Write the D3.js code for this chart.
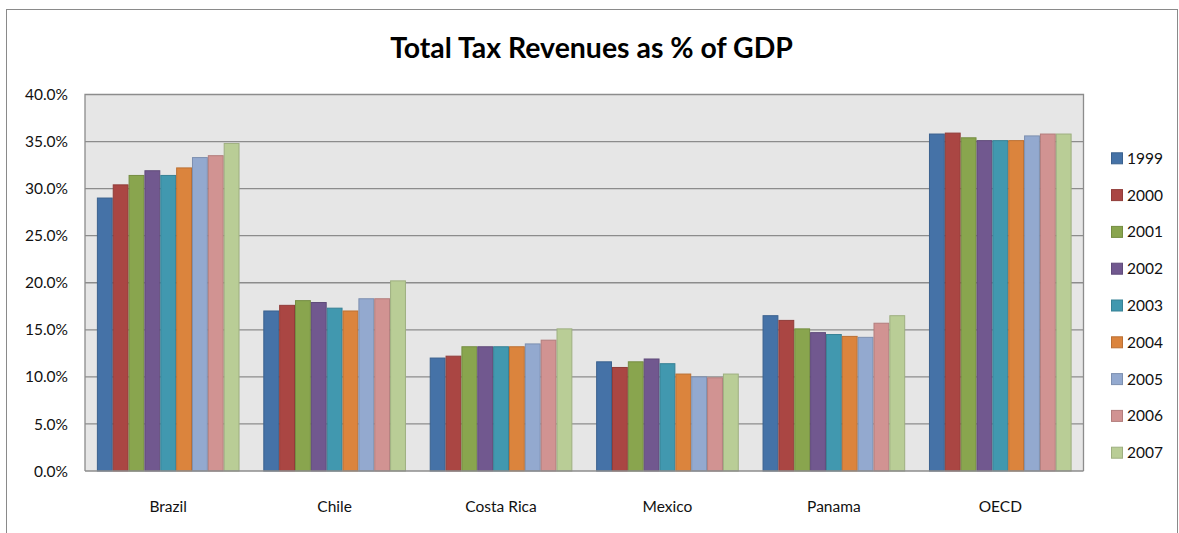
<!DOCTYPE html>
<html>
<head>
<meta charset="utf-8">
<script src="https://cdn.jsdelivr.net/npm/d3@7"></script>
<style>
  html, body { margin: 0; padding: 0; background: #fff; }
  svg { display: block; font-family: Lato, "Open Sans", sans-serif; }
</style>
</head>
<body>
<svg id="chart" width="1179" height="533"></svg>
<script>
// Countries along the x axis
const categories = ["Brazil", "Chile", "Costa Rica", "Mexico", "Panama", "OECD"];
// One series per year
const years = ["1999", "2000", "2001", "2002", "2003", "2004", "2005", "2006", "2007"];
// Total tax revenue as % of GDP, per year, in country order
const v1999 = [29.0, 17.0, 12.0, 11.6, 16.5, 35.8];
const v2000 = [30.4, 17.6, 12.2, 11.0, 16.0, 35.9];
const v2001 = [31.4, 18.1, 13.2, 11.6, 15.1, 35.4];
const v2002 = [31.9, 17.9, 13.2, 11.9, 14.7, 35.1];
const v2003 = [31.4, 17.3, 13.2, 11.4, 14.5, 35.1];
const v2004 = [32.2, 17.0, 13.2, 10.3, 14.3, 35.1];
const v2005 = [33.3, 18.3, 13.5, 10.0, 14.2, 35.6];
const v2006 = [33.5, 18.3, 13.9,  9.9, 15.7, 35.8];
const v2007 = [34.8, 20.2, 15.1, 10.3, 16.5, 35.8];
const yTicks = [0, 5, 10, 15, 20, 25, 30, 35, 40];

const seriesValues = [v1999, v2000, v2001, v2002, v2003, v2004, v2005, v2006, v2007];
const colors = ["#4572A7", "#AA4643", "#89A54E", "#71588F", "#4198AF",
                "#DB843D", "#93A9CF", "#D19392", "#B9CD96"];

const svg = d3.select("#chart");

// outer chart frame
svg.append("rect")
  .attr("x", 6.5).attr("y", 9.5)
  .attr("width", 1171).attr("height", 560)
  .attr("fill", "#fff").attr("stroke", "#8a8a8a").attr("stroke-width", 1);

const plot = { left: 85, right: 1083.5, top: 94.5, bottom: 471 };

const x0 = d3.scaleBand().domain(categories)
  .range([plot.left, plot.right]).padding(0);
const x1 = d3.scaleBand().domain(years)
  .range([0, x0.bandwidth()]).paddingInner(0).paddingOuter(0.75);
const y = d3.scaleLinear().domain([0, 40]).range([plot.bottom, plot.top]);
const color = d3.scaleOrdinal().domain(years).range(colors);

// plot area background
svg.append("rect")
  .attr("x", plot.left).attr("y", plot.top)
  .attr("width", plot.right - plot.left).attr("height", plot.bottom - plot.top)
  .attr("fill", "#e6e6e6");

// horizontal gridlines
svg.append("g")
  .selectAll("line")
  .data(yTicks.filter(t => t > 0 && t < 40))
  .join("line")
  .attr("x1", plot.left).attr("x2", plot.right)
  .attr("y1", d => y(d)).attr("y2", d => y(d))
  .attr("stroke", "#8c8c8c").attr("stroke-width", 1.3);

// plot border (top, right, left)
svg.append("path")
  .attr("d", `M${plot.left},${plot.bottom}V${plot.top}H${plot.right}V${plot.bottom}`)
  .attr("fill", "none").attr("stroke", "#8c8c8c").attr("stroke-width", 1.3);

// y axis labels
svg.append("g")
  .selectAll("text")
  .data(yTicks)
  .join("text")
  .attr("x", 68).attr("y", d => y(d))
  .attr("dy", "0.36em")
  .attr("text-anchor", "end")
  .attr("font-size", 15.5)
  .attr("fill", "#111")
  .text(d => d3.format(".1f")(d) + "%");

// bars
const rows = categories.map((c, i) => ({
  category: c,
  values: years.map((yr, j) => ({ year: yr, value: seriesValues[j][i] }))
}));

const groups = svg.append("g")
  .selectAll("g")
  .data(rows)
  .join("g")
  .attr("transform", d => `translate(${x0(d.category)},0)`);

groups.selectAll("rect")
  .data(d => d.values)
  .join("rect")
  .attr("x", d => x1(d.year) + 0.5)
  .attr("y", d => y(d.value))
  .attr("width", x1.bandwidth() - 1)
  .attr("height", d => y(0) - y(d.value))
  .attr("fill", d => color(d.year))
  .attr("stroke", d => d3.color(color(d.year)).darker(0.45))
  .attr("stroke-width", 1);

// baseline
svg.append("line")
  .attr("x1", plot.left).attr("x2", plot.right)
  .attr("y1", plot.bottom).attr("y2", plot.bottom)
  .attr("stroke", "#8c8c8c").attr("stroke-width", 1.5);

// category labels
svg.append("g")
  .selectAll("text")
  .data(categories)
  .join("text")
  .attr("x", d => x0(d) + x0.bandwidth() / 2)
  .attr("y", 512)
  .attr("text-anchor", "middle")
  .attr("font-size", 15.5)
  .attr("fill", "#111")
  .text(d => d);

// legend
const legend = svg.append("g")
  .selectAll("g")
  .data(years)
  .join("g")
  .attr("transform", (d, i) => `translate(1111,${158.3 + i * 36.8})`);

legend.append("rect")
  .attr("x", 0.5).attr("y", -5.5)
  .attr("width", 11).attr("height", 11)
  .attr("fill", d => color(d))
  .attr("stroke", d => d3.color(color(d)).darker(0.45));

legend.append("text")
  .attr("x", 16).attr("y", 0).attr("dy", "0.36em")
  .attr("font-size", 15.5)
  .attr("fill", "#111")
  .text(d => d);

// title, sized to span its line
const title = svg.append("text")
  .attr("x", 591.5).attr("y", 58)
  .attr("text-anchor", "middle")
  .attr("font-weight", "bold")
  .attr("font-size", 28)
  .attr("fill", "#000")
  .text("Total Tax Revenues as % of GDP");
const len = title.node().getComputedTextLength();
if (len > 0) title.attr("font-size", 28 * 403 / len);
</script>
</body>
</html>
